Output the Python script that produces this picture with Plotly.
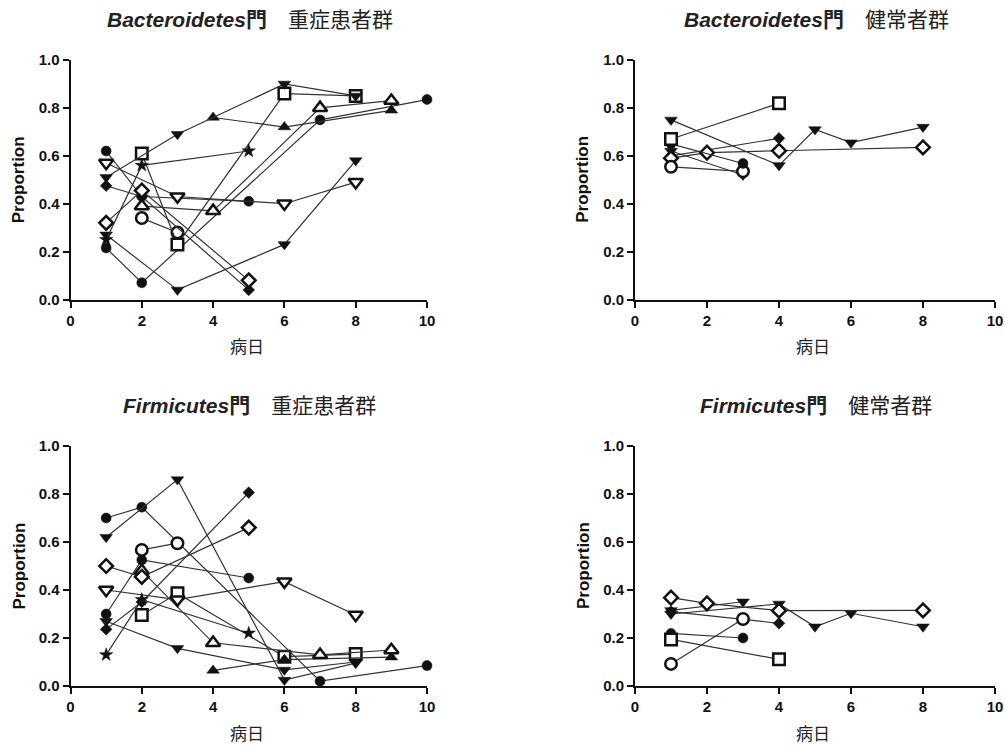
import plotly.graph_objects as go

# ---------------- data ----------------
# severe patients (same patient order / symbols in both phylum panels)
severe_days = [[1, 2, 5], [1, 2, 7, 10], [2, 3], [2, 3, 6, 8], [4, 6, 9], [2, 4, 7, 9],
               [1, 3, 6, 8], [1, 3, 6, 8], [1, 3, 6, 8], [1, 2, 5], [1, 2, 5], [1, 2, 5]]
bact_severe = [[0.62, 0.43, 0.41], [0.215, 0.07, 0.75, 0.835], [0.34, 0.28],
               [0.61, 0.23, 0.86, 0.85], [0.76, 0.72, 0.79], [0.39, 0.37, 0.80, 0.83],
               [0.27, 0.04, 0.23, 0.58], [0.51, 0.69, 0.90, 0.85], [0.57, 0.43, 0.40, 0.49],
               [0.475, 0.43, 0.04], [0.32, 0.455, 0.08], [0.25, 0.56, 0.62]]
firm_severe = [[0.30, 0.525, 0.45], [0.70, 0.745, 0.02, 0.085], [0.567, 0.595],
               [0.296, 0.386, 0.122, 0.133], [0.065, 0.11, 0.12], [0.48, 0.18, 0.13, 0.15],
               [0.62, 0.86, 0.025, 0.095], [0.27, 0.157, 0.067, 0.10], [0.40, 0.36, 0.435, 0.296],
               [0.236, 0.35, 0.806], [0.50, 0.455, 0.66], [0.13, 0.36, 0.22]]

# healthy subjects
healthy_days = [[1, 4, 5, 6, 8], [1, 3], [1, 4], [1, 2, 4, 8], [1, 3], [1, 3], [1, 4]]
bact_healthy = [[0.75, 0.56, 0.71, 0.655, 0.72], [0.62, 0.52], [0.60, 0.673],
                [0.59, 0.613, 0.621, 0.635], [0.554, 0.535], [0.65, 0.568], [0.67, 0.819]]
firm_healthy = [[0.30, 0.342, 0.247, 0.303, 0.247], [0.315, 0.351], [0.31, 0.261],
                [0.368, 0.344, 0.314, 0.315], [0.092, 0.279], [0.219, 0.20], [0.194, 0.111]]

x_ticks = [0, 2, 4, 6, 8, 10]
y_ticks = [0.0, 0.2, 0.4, 0.6, 0.8, 1.0]

panel_titles = ["<b><i>Bacteroidetes</i>門</b>　重症患者群",
                "<b><i>Bacteroidetes</i>門</b>　健常者群",
                "<b><i>Firmicutes</i>門</b>　重症患者群",
                "<b><i>Firmicutes</i>門</b>　健常者群"]
x_title = "病日"
y_title = "Proportion"

# ---------------- styles ----------------
severe_symbols = ["circle", "circle", "circle-o", "square-o", "triangle-up", "triangle-up-o",
                  "triangle-down", "triangle-down", "triangle-down-o", "diamond", "diamond-o", "star"]
healthy_symbols = ["triangle-down", "triangle-down", "diamond", "diamond-o", "circle-o", "circle", "square-o"]

FONT = "Liberation Sans, Arial, Noto Sans CJK JP, sans-serif"
W, H = 1005, 749

# pixel layout of plot areas
panels = [
    dict(x0=70.5, x1=427, y0=60, y1=299.5),
    dict(x0=635, x1=995, y0=60, y1=299.5),
    dict(x0=70.5, x1=427, y0=446, y1=686),
    dict(x0=635, x1=995, y0=446, y1=686),
]


def marker_style(sym):
    open_ = sym.endswith("-o")
    base = sym[:-2] if open_ else sym
    size = {"circle": 10, "square": 10, "triangle-up": 11, "triangle-down": 11,
            "diamond": 9, "star": 10}[base]
    if open_:
        return dict(symbol=base, size=size + 1.5, color="white",
                    line=dict(color="#111", width=2.5))
    return dict(symbol=base, size=size, color="#111", line=dict(color="#111", width=0.5))


fig = go.Figure()

panel_data = [
    (severe_days, bact_severe, severe_symbols),
    (healthy_days, bact_healthy, healthy_symbols),
    (severe_days, firm_severe, severe_symbols),
    (healthy_days, firm_healthy, healthy_symbols),
]

layout = dict(width=W, height=H, margin=dict(l=0, r=0, t=0, b=0, autoexpand=False),
              paper_bgcolor="white", plot_bgcolor="white", showlegend=False,
              font=dict(family=FONT, color="#111"))
annotations = []

for i, (p, (days, vals, syms)) in enumerate(zip(panels, panel_data)):
    n = i + 1
    xa = "x" if n == 1 else f"x{n}"
    ya = "y" if n == 1 else f"y{n}"
    xkey = "xaxis" if n == 1 else f"xaxis{n}"
    ykey = "yaxis" if n == 1 else f"yaxis{n}"
    dx = [p["x0"] / W, p["x1"] / W]
    dy = [1 - p["y1"] / H, 1 - p["y0"] / H]
    layout[xkey] = dict(domain=dx, anchor=ya, range=[0, 10], tickvals=x_ticks,
                        automargin=False,
                        showline=True, linewidth=2, linecolor="#111", ticks="outside",
                        ticklen=6, tickwidth=2, tickcolor="#111", showgrid=False,
                        zeroline=False, tickfont=dict(size=15, weight="bold", family=FONT))
    layout[ykey] = dict(domain=dy, anchor=xa, range=[0, 1], tickvals=y_ticks, tickformat=".1f",
                        automargin=False,
                        showline=True, linewidth=2, linecolor="#111", ticks="outside",
                        ticklen=6, tickwidth=2, tickcolor="#111", showgrid=False,
                        zeroline=False, tickfont=dict(size=15, weight="bold", family=FONT))
    for d, v, s in zip(days, vals, syms):
        fig.add_trace(go.Scatter(x=d, y=v, xaxis=xa, yaxis=ya, mode="lines+markers",
                                 line=dict(color="#333", width=1.2),
                                 marker=marker_style(s), cliponaxis=False,
                                 hoverinfo="x+y"))
    cx = (p["x0"] + p["x1"]) / 2
    # panel title
    annotations.append(dict(text=panel_titles[i], x=(cx + 1) / W, y=1 - (p["y0"] - 40) / H,
                            xref="paper", yref="paper", showarrow=False,
                            font=dict(size=21, family=FONT, color="#222"),
                            xanchor="center", yanchor="middle"))
    # x title
    annotations.append(dict(text=x_title, x=(cx - 2) / W, y=1 - (p["y1"] + 46) / H,
                            xref="paper", yref="paper", showarrow=False,
                            font=dict(size=17, family="Noto Sans CJK JP", color="#222"),
                            xanchor="center", yanchor="middle"))
    # y title
    annotations.append(dict(text="<b>" + y_title + "</b>", x=(p["x0"] - 52) / W,
                            y=1 - ((p["y0"] + p["y1"]) / 2) / H,
                            xref="paper", yref="paper", showarrow=False, textangle=-90,
                            font=dict(size=17, family=FONT, color="#111"),
                            xanchor="center", yanchor="middle"))

layout["annotations"] = annotations
fig.update_layout(**layout)
fig.write_html("out.html", config={"displayModeBar": False},
               post_script="document.body.style.margin='0';document.body.style.overflow='hidden';")
